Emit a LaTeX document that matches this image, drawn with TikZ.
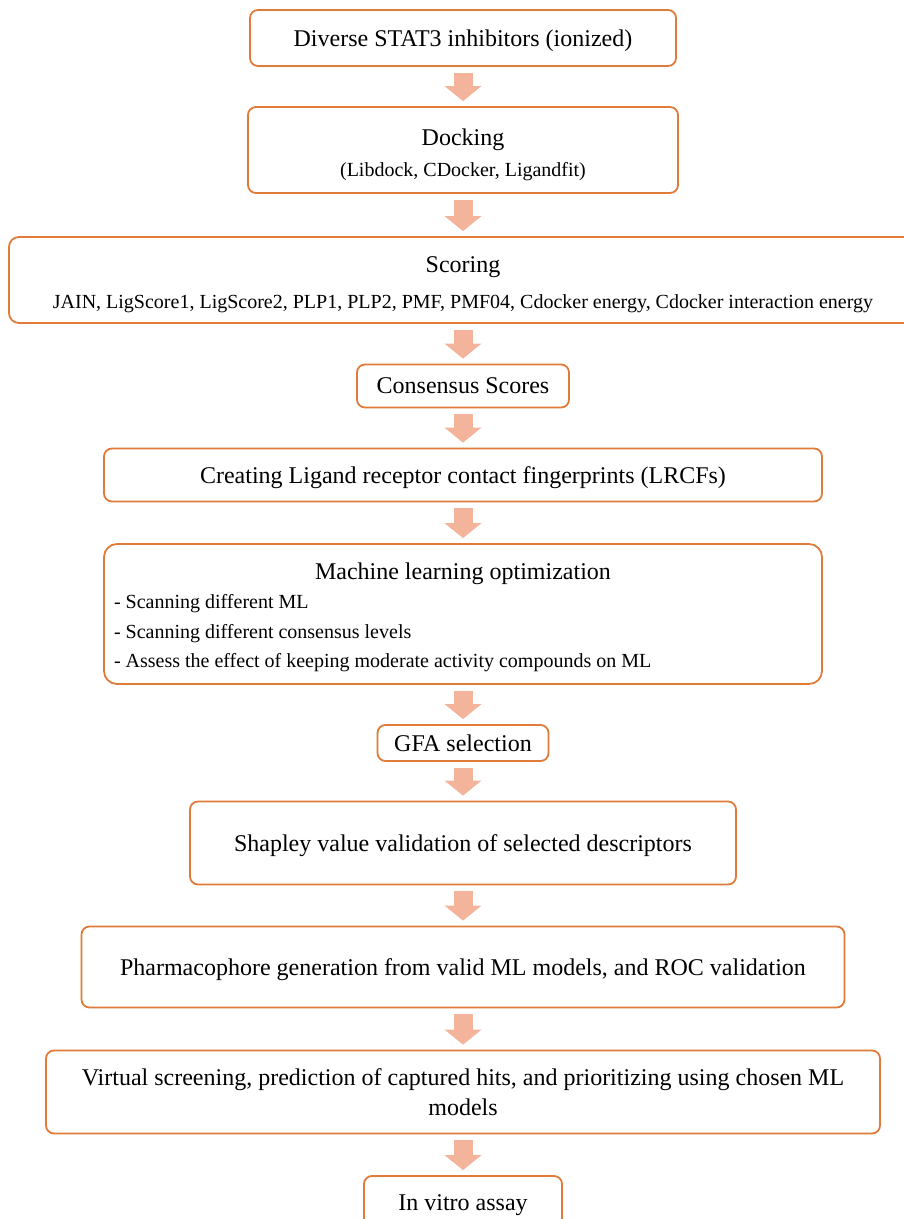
\documentclass[tikz,border=0pt]{standalone}
\usepackage{fontspec}
\setmainfont{Liberation Serif}
\usepackage{tikz}
\usetikzlibrary{arrows.meta}
\definecolor{boxorange}{HTML}{E07B39}
\definecolor{arrowpeach}{HTML}{F4B49C}
\newcommand{\bigtext}{\fontsize{24}{30}\selectfont}
\newcommand{\smalltext}{\fontsize{20}{29.5}\selectfont}

\begin{document}
\begin{tikzpicture}[x=1pt,y=-1pt,
		stage/.style={draw=boxorange,line width=1.8pt,rounded corners=8pt,align=center,font=\bigtext,inner sep=0pt},
		oneline/.style={stage,text depth=0pt},
		flow/.style={draw=arrowpeach,line width=19pt,shorten <=6pt,shorten >=5pt,
			-{Triangle[width=37pt,length=15pt,line width=0pt,fill=arrowpeach]}}]
		\useasboundingbox (0,0) rectangle (903,1219);
		\node[oneline,minimum width=426pt,minimum height=56pt](inhib) at (463,38){Diverse STAT3 inhibitors (ionized)};
		\node[stage,minimum width=430pt,minimum height=86pt](dock) at (463,150){\rule{0pt}{26pt}Docking\\[1pt]{\smalltext (Libdock, CDocker, Ligandfit)}};
		\node[stage,minimum width=908pt,minimum height=86pt,rounded corners=10pt](score) at (463,280){\rule{0pt}{24.5pt}Scoring\\[6pt]{\smalltext JAIN, LigScore1, LigScore2, PLP1, PLP2, PMF, PMF04, Cdocker energy, Cdocker interaction energy}};
		\node[oneline,minimum width=212pt,minimum height=43pt](consensus) at (463,386){Consensus Scores};
		\node[oneline,minimum width=718pt,minimum height=53pt](lrcf) at (463,475){Creating Ligand receptor contact fingerprints (LRCFs)};
		\node[stage,minimum width=718pt,minimum height=140pt,rounded corners=13pt,text width=698pt,align=flush left](mlopt) at (463,614){%
			{\centering\rule{0pt}{23.5pt}Machine learning optimization\par}
			{\smalltext - Scanning different ML\par
			- Scanning different consensus levels\par
			- Assess the effect of keeping moderate activity compounds on ML\par}};
		\node[oneline,minimum width=171pt,minimum height=36pt](gfa) at (463,743){GFA selection};
		\node[oneline,minimum width=546pt,minimum height=83pt](shapley) at (463,843){Shapley value validation of selected descriptors};
		\node[oneline,minimum width=763pt,minimum height=81pt](pharma) at (463,967){Pharmacophore generation from valid ML models, and ROC validation};
		\node[stage,minimum width=834pt,minimum height=83pt](virtual) at (463,1092){Virtual screening, prediction of captured hits, and prioritizing using chosen ML\\models};
		\node[oneline,minimum width=198pt,minimum height=54pt](invitro) at (463,1203){In vitro assay};
		% block arrows between the stages
		\foreach \a/\b in {inhib/dock,dock/score,score/consensus,consensus/lrcf,lrcf/mlopt,
			mlopt/gfa,gfa/shapley,shapley/pharma,pharma/virtual,virtual/invitro}
			\draw[flow] (\a) -- (\b);
	\end{tikzpicture}
\end{document}
